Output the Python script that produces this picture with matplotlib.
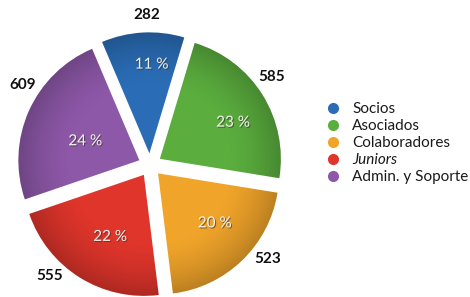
import matplotlib
matplotlib.use("Agg")
import matplotlib.pyplot as plt
import numpy as np
from matplotlib.lines import Line2D
import matplotlib.patheffects as pe

categories = ["Socios", "Asociados", "Colaboradores", "Juniors", "Admin. y Soporte"]
values = [282, 585, 523, 555, 609]
percent_labels = ["11 %", "23 %", "20 %", "22 %", "24 %"]
colors = ["#2a6db6", "#5bae3e", "#f0a42a", "#df352b", "#8e58a9"]

# label placement tweaks (styling, not data): angle offsets in degrees, radii in pie units
value_label_angle_offset = [-2, 4, 7.5, -10, -8]
value_label_radius = 1.24
pct_label_angle_offset = [-4, -5, 4, 3, 4]
pct_label_radius = [0.83, 0.77, 0.72, 0.68, 0.57]

plt.rcParams['font.family'] = ['Lato', 'DejaVu Sans']

W, H = 470, 297
ppu = 121.0
half = 1.2
cx_px, cy_px = 150, 165
side = 2 * half * ppu
fig = plt.figure(figsize=(W / 100, H / 100), dpi=100)
ax = fig.add_axes([(cx_px - side / 2) / W, (H - cy_px - side / 2) / H, side / W, side / H])
explode = [0.096] * len(values)
wedges, _ = ax.pie(values, colors=colors, startangle=113, counterclock=False,
                   explode=explode, radius=1.0,
                   wedgeprops=dict(linewidth=0))
ax.set_xlim(-half, half)
ax.set_ylim(-half, half)
ax.set_aspect('equal')
ax.axis('off')

# subtle shading: darker toward outer rim, clipped to each wedge
n = 300
gx, gy = np.meshgrid(np.linspace(-1.2, 1.2, n), np.linspace(-1.2, 1.2, n))
for w in wedges:
    wx, wy = w.center
    rr = np.hypot(gx - wx, gy - wy)
    alpha = np.clip((rr - 0.55) / 0.45, 0, 1) ** 1.6 * 0.22
    shade = np.zeros((n, n, 4))
    shade[..., 3] = alpha
    im = ax.imshow(shade, extent=(-1.2, 1.2, -1.2, 1.2), origin='lower',
                   interpolation='bilinear', zorder=w.get_zorder() + 0.1)
    im.set_clip_path(w)

for i, (w, v, p) in enumerate(zip(wedges, values, percent_labels)):
    mid = (w.theta1 + w.theta2) / 2
    a1 = np.deg2rad(mid + pct_label_angle_offset[i])
    r1 = pct_label_radius[i]
    ax.text(r1 * np.cos(a1), r1 * np.sin(a1), p, zorder=5,
            ha='center', va='center', color='#f4f0ea', fontsize=11,
            path_effects=[pe.withSimplePatchShadow(offset=(0.8, -0.8), shadow_rgbFace='#333333', alpha=0.6)])
    a2 = np.deg2rad(mid + value_label_angle_offset[i])
    ax.text(value_label_radius * np.cos(a2), value_label_radius * np.sin(a2), str(v), zorder=5,
            ha='center', va='center', color='#111111', fontsize=11, fontweight='bold')

ax.set_xlim(-half, half)
ax.set_ylim(-half, half)

handles = [Line2D([0], [0], marker='o', color='none', markerfacecolor=c,
                  markeredgecolor='none', markersize=8) for c in colors]
leg = fig.legend(handles, categories, loc='center left', bbox_to_anchor=(0.679, 0.518),
                 frameon=False, fontsize=11, handletextpad=0.75, labelspacing=0.2,
                 handlelength=1.0, borderaxespad=0)
for t in leg.get_texts():
    t.set_color('#1a1a1a')
    if t.get_text() == "Juniors":
        t.set_fontstyle('italic')

fig.savefig("out.png", dpi=100)
